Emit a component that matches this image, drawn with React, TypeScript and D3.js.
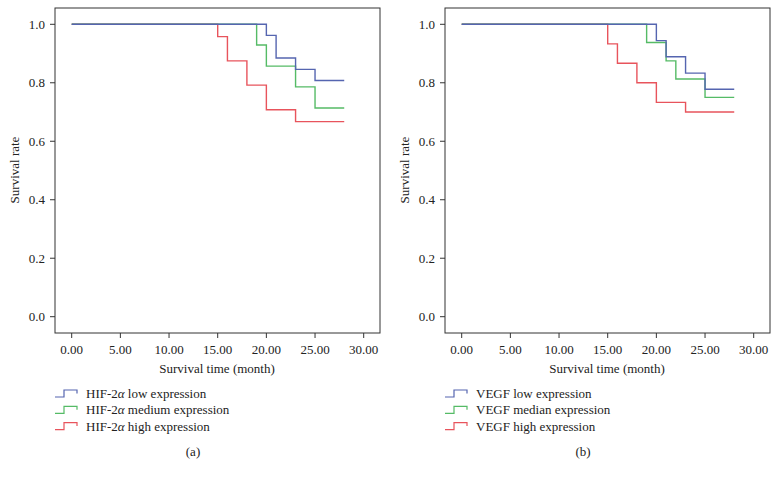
import React from "react";
import * as d3 from "d3";

// ---- data ----
const xTicks = [0, 5, 10, 15, 20, 25, 30];
const yTicks = [0, 0.2, 0.4, 0.6, 0.8, 1.0];

// Panel (a): HIF-2α
const hifLowTime = [0, 20, 21, 23, 25, 28];
const hifLowRate = [1.0, 0.962, 0.885, 0.846, 0.808, 0.808];
const hifMedTime = [0, 19, 20, 23, 25, 28];
const hifMedRate = [1.0, 0.929, 0.857, 0.786, 0.714, 0.714];
const hifHighTime = [0, 15, 16, 18, 20, 23, 28];
const hifHighRate = [1.0, 0.958, 0.875, 0.792, 0.708, 0.667, 0.667];

// Panel (b): VEGF
const vegfLowTime = [0, 20, 21, 23, 25, 28];
const vegfLowRate = [1.0, 0.944, 0.889, 0.833, 0.778, 0.778];
const vegfMedTime = [0, 19, 21, 22, 25, 28];
const vegfMedRate = [1.0, 0.938, 0.875, 0.813, 0.75, 0.75];
const vegfHighTime = [0, 15, 16, 18, 20, 23, 28];
const vegfHighRate = [1.0, 0.933, 0.867, 0.8, 0.733, 0.7, 0.7];

const hifLabels = ["low expression", "medium expression", "high expression"];
const vegfLabels = ["VEGF low expression", "VEGF median expression", "VEGF high expression"];

const COLORS = ["#5565b0", "#55bb66", "#e8545c"];
const FONT = "'Liberation Serif', 'DejaVu Serif', serif";

type Series = { t: number[]; r: number[] };

function Panel({ dx, series, legend, caption }: { dx: number; series: Series[]; legend: React.ReactNode[]; caption: string }) {
  const x = d3.scaleLinear().domain([0, 30]).range([71.7, 363.7]);
  const y = d3.scaleLinear().domain([0, 1]).range([316.7, 24.3]);
  const line = d3
    .line<[number, number]>()
    .x((d) => x(d[0]))
    .y((d) => y(d[1]))
    .curve(d3.curveStepAfter);
  const frame = { l: 55, r: 380, t: 8, b: 333 };
  const axisColor = "#333";
  return (
    <g transform={`translate(${dx},0)`} fontFamily={FONT} fill="#222">
      <rect x={frame.l} y={frame.t} width={frame.r - frame.l} height={frame.b - frame.t} fill="none" stroke={axisColor} strokeWidth={1} />
      {yTicks.map((v) => (
        <g key={v}>
          <line x1={frame.l - 5} x2={frame.l} y1={y(v)} y2={y(v)} stroke={axisColor} />
          <text x={45} y={y(v)} dy="0.35em" textAnchor="end" fontSize={13}>
            {v.toFixed(1)}
          </text>
        </g>
      ))}
      {xTicks.map((v) => (
        <g key={v}>
          <line x1={x(v)} x2={x(v)} y1={frame.b} y2={frame.b + 5} stroke={axisColor} />
          <text x={x(v)} y={354} textAnchor="middle" fontSize={13}>
            {v.toFixed(2)}
          </text>
        </g>
      ))}
      <text x={217} y={373} textAnchor="middle" fontSize={13}>
        Survival time (month)
      </text>
      <text transform={`translate(19,170) rotate(-90)`} textAnchor="middle" fontSize={13}>
        Survival rate
      </text>
      {series
        .map((s, i) => ({ s, i }))
        .reverse()
        .map(({ s, i }) => (
          <path
            key={i}
            d={line(s.t.map((t, k) => [t, s.r[k]] as [number, number])) || ""}
            fill="none"
            stroke={COLORS[i]}
            strokeWidth={1.4}
          />
        ))}
      {legend.map((lab, i) => {
        const cy = 393.5 + i * 16.3;
        return (
          <g key={i}>
            <path
              d={`M55,${cy + 3.5} H64 V${cy - 3.5} H77 V${cy}`}
              fill="none"
              stroke={COLORS[i]}
              strokeWidth={1.2}
            />
            <text x={86} y={cy} dy="0.35em" fontSize={13}>
              {lab}
            </text>
          </g>
        );
      })}
      <text x={193} y={451} dy="0.35em" textAnchor="middle" fontSize={13}>
        {caption}
      </text>
    </g>
  );
}

export default function App() {
  const hifSeries: Series[] = [
    { t: hifLowTime, r: hifLowRate },
    { t: hifMedTime, r: hifMedRate },
    { t: hifHighTime, r: hifHighRate },
  ];
  const vegfSeries: Series[] = [
    { t: vegfLowTime, r: vegfLowRate },
    { t: vegfMedTime, r: vegfMedRate },
    { t: vegfHighTime, r: vegfHighRate },
  ];
  const hifLegend = hifLabels.map((l) => (
    <>
      HIF-2<tspan fontStyle="italic">α</tspan> {l}
    </>
  ));
  return (
    <svg width={779} height={477} style={{ position: "absolute", left: 0, top: 0, background: "#fff" }}>
      <rect width={779} height={477} fill="#fff" />
      <Panel dx={0} series={hifSeries} legend={hifLegend} caption="(a)" />
      <Panel dx={390} series={vegfSeries} legend={vegfLabels} caption="(b)" />
    </svg>
  );
}
